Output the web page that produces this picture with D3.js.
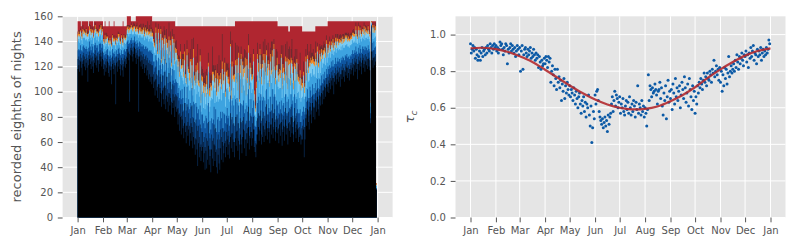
<!doctype html>
<html lang="en">
<head>
  <meta charset="utf-8">
  <title>eighths of nights</title>
  <script src="https://d3js.org/d3.v7.min.js"></script>
  <style>
    body { margin: 0; background: #fff; }
    text { font-family: "DejaVu Sans", sans-serif; }
  </style>
</head>
<body>
<svg id="fig" width="800" height="250"></svg>
<script>
// month ticks, day of year (leap year, 366 days)
var monthStarts = [0,31,60,91,121,152,182,213,244,274,305,335,366];
var monthNames = ["Jan","Feb","Mar","Apr","May","Jun","Jul","Aug","Sep","Oct","Nov","Dec","Jan"];

// left panel: recorded eighths per day, one list per class (bottom to top)
var black = [
  118,121,116,124,119,113,122,125,120,117,123,119,108,121,126,122,118,124,120,115,123,127,121,119,125,116,122,128,124,120,126,
  118,113,121,116,119,124,115,112,120,117,106,122,118,114,121,90,123,116,120,125,118,113,121,117,112,120,124,119,122,
  127,131,125,92,129,133,128,124,130,135,127,122,129,126,84,128,124,120,125,118,122,115,119,121,113,117,110,114,108,112,106,
  112,103,108,97,110,101,95,106,92,103,99,88,101,94,90,105,86,97,92,84,99,89,95,82,91,87,93,80,88,84,
  86,74,82,69,80,66,78,71,63,75,68,59,73,65,70,57,67,61,72,55,64,58,50,62,54,41,59,48,56,45,53,
  56,44,51,38,53,39,46,57,42,49,36,54,47,41,58,45,52,40,35,50,43,38,55,46,60,44,51,59,48,56,
  62,50,58,47,64,55,67,52,60,48,63,57,69,53,61,46,66,58,51,64,70,55,62,49,67,59,72,54,63,68,57,
  63,70,56,52,48,58,66,72,61,69,75,58,64,73,60,70,65,77,62,71,68,59,74,66,79,63,70,76,61,72,67,
  70,59,74,65,76,57,68,73,61,78,66,71,58,75,69,64,80,67,72,60,77,68,63,74,70,60,64,66,58,62,
  62,70,48,62,79,73,86,76,70,88,82,75,91,80,87,78,93,84,96,86,81,97,89,99,90,101,94,104,96,106,100,
  104,99,107,102,109,105,111,98,108,113,106,110,115,108,112,104,114,110,117,112,108,116,113,119,111,115,109,118,114,117,
  119,113,121,116,123,118,110,122,117,124,120,114,125,119,122,116,124,121,118,126,120,117,75,132,125,119,127,121,124,22,0
];
var navy = [
  8,7,9,6,8,11,7,6,8,9,7,8,17,8,6,7,9,7,8,10,7,6,8,9,6,9,8,5,7,8,6,
  7,9,6,8,7,5,8,9,6,7,14,6,7,9,6,30,5,8,7,5,7,9,6,8,10,7,5,7,6,
  7,5,7,38,6,5,7,8,6,4,7,9,6,7,44,6,8,9,7,10,8,11,9,8,12,10,13,11,14,12,15,
  9,11,8,12,10,13,9,11,14,9,15,10,12,9,14,11,8,15,10,12,16,9,13,10,15,11,12,16,10,13,
  10,13,11,14,10,15,12,13,10,16,12,14,17,11,13,16,12,14,17,13,15,18,13,16,19,28,14,16,18,13,15,
  12,16,13,18,14,24,15,19,12,14,18,12,14,22,16,12,19,14,27,16,12,24,15,18,11,13,17,10,13,12,
  12,15,11,13,19,11,13,10,15,12,17,11,13,10,14,12,13,18,11,13,10,14,12,13,10,12,16,11,9,13,11,
  12,10,14,9,11,8,13,11,9,12,10,8,15,11,8,11,10,13,9,11,8,12,10,8,11,9,13,10,7,9,11,
  9,12,8,10,7,13,10,8,11,9,7,10,13,9,7,10,8,12,9,6,10,11,8,9,6,11,8,10,7,9,
  11,8,24,10,8,9,7,9,11,7,9,10,6,8,7,10,6,8,6,8,9,5,7,6,8,5,7,5,7,5,6,
  8,10,7,9,7,8,6,13,7,6,8,7,5,8,7,10,6,7,5,7,9,6,7,5,8,6,9,5,7,6,
  7,9,6,8,6,8,12,6,8,6,7,9,5,8,7,9,6,7,8,5,7,8,4,20,7,8,6,7,6,1,0
];
var blue = [
  7,6,8,7,6,8,7,6,7,8,6,7,7,6,8,7,6,7,8,6,7,6,8,7,6,7,8,6,7,7,6,
  6,7,5,6,7,5,6,7,6,5,7,6,6,7,5,8,5,6,7,5,6,7,6,5,8,6,5,6,6,
  6,5,6,9,6,5,6,7,5,5,6,7,6,6,8,6,7,7,6,8,7,8,8,7,9,8,9,8,10,9,10,
  9,10,8,10,9,11,9,10,11,9,11,10,9,10,12,10,9,11,10,11,12,10,11,10,12,11,12,11,12,11,
  11,12,10,12,11,13,12,11,12,13,11,12,14,12,11,13,12,13,14,12,13,14,12,13,15,14,13,14,15,13,14,
  14,15,13,15,14,16,14,15,13,14,16,13,14,15,14,13,15,14,16,14,13,15,14,15,13,14,15,13,14,13,
  13,14,12,13,14,12,13,12,14,13,14,12,13,12,14,13,12,14,13,12,13,14,12,13,12,13,14,12,11,13,12,
  12,13,11,12,13,11,12,13,11,12,13,11,14,12,11,12,13,12,11,12,11,13,12,11,12,11,13,12,10,12,11,
  11,12,10,11,10,12,11,10,12,11,10,11,12,10,11,12,10,11,12,10,11,12,10,11,10,12,11,10,11,10,
  11,10,12,10,9,10,9,10,11,9,10,11,9,10,9,10,8,9,8,9,10,8,9,8,9,8,9,7,8,7,8,
  8,9,7,8,8,7,8,9,7,8,8,7,7,8,7,9,7,8,6,8,8,7,8,6,8,7,8,6,7,7,
  7,8,6,7,7,6,8,7,6,7,7,8,6,7,7,8,6,7,7,6,7,7,4,1,7,6,7,7,6,0,0
];
var sky = [
  7,8,6,7,8,6,7,6,8,7,6,7,8,7,6,7,8,6,7,7,6,8,7,6,7,8,6,7,7,6,7,
  6,5,7,6,5,6,7,5,6,7,6,5,6,7,5,6,6,7,5,6,6,5,7,6,5,6,5,6,5,
  6,5,6,7,5,6,5,6,5,4,6,7,5,6,7,5,6,7,6,7,8,7,8,7,8,9,8,9,8,10,9,
  9,12,7,10,14,8,11,15,9,12,16,10,13,8,17,11,14,10,18,12,9,15,13,11,19,12,16,10,14,17,
  13,8,17,10,15,19,9,14,21,12,16,10,18,23,11,15,20,13,9,17,24,12,16,19,10,22,14,18,25,13,16,
  18,12,22,15,9,20,14,25,17,11,23,16,19,27,13,21,15,24,18,12,26,17,20,14,22,28,16,19,13,21,
  16,22,13,19,25,11,17,21,14,24,18,12,20,16,26,13,19,23,15,21,12,18,24,16,20,14,16,17,25,13,19,
  15,20,11,9,8,16,22,13,18,24,14,19,12,21,16,23,13,18,25,15,20,12,17,22,14,19,24,13,18,16,21,
  14,19,11,17,22,13,16,20,12,18,15,21,13,17,23,12,16,19,14,20,11,18,15,22,13,17,12,19,16,14,
  12,16,10,14,18,11,15,13,17,10,14,16,12,15,11,14,13,10,15,12,11,14,10,13,12,9,12,11,10,13,9,
  10,9,10,8,9,10,8,9,10,8,9,10,8,9,8,10,9,8,9,8,10,8,9,8,9,8,9,8,9,8,
  8,9,7,8,9,7,8,9,8,7,8,9,7,8,9,8,7,8,9,7,8,8,5,1,8,9,7,8,8,2,0
];
var pale = [
  4,3,5,4,3,4,5,3,4,4,5,3,4,4,3,5,4,3,4,5,4,3,4,5,3,4,4,3,5,4,3,
  3,4,3,3,4,3,3,4,3,2,3,4,3,3,4,3,2,3,4,3,3,4,3,3,2,4,3,3,4,
  3,4,3,3,4,2,3,3,4,3,2,3,4,3,3,4,3,3,4,3,4,3,4,4,3,4,5,4,4,5,4,
  5,4,5,6,4,5,6,5,4,6,5,5,6,4,5,6,5,6,5,6,5,6,5,7,5,6,6,5,7,6,
  6,9,4,7,10,5,8,12,6,9,4,11,7,5,10,8,13,6,9,5,11,7,14,6,9,12,5,8,10,7,11,
  8,12,5,10,14,7,9,4,13,8,11,6,15,9,7,12,10,5,14,8,11,13,6,9,12,7,10,15,8,11,
  9,6,12,8,14,5,10,13,7,11,9,15,6,10,12,8,5,13,9,11,7,14,10,6,12,9,13,8,11,7,10,
  8,11,6,5,4,10,13,7,9,12,6,10,14,8,11,7,12,9,6,13,10,8,11,7,12,9,14,6,10,8,11,
  9,6,11,8,12,7,10,5,13,8,9,11,6,10,12,7,9,13,8,6,11,9,12,7,10,8,11,6,9,10,
  7,9,5,8,10,6,9,7,11,6,8,10,5,9,7,8,6,10,7,5,8,6,9,5,7,6,8,5,6,7,5,
  5,4,6,5,4,5,6,4,5,5,4,6,5,4,5,6,4,5,5,4,5,6,4,5,4,5,5,4,5,4,
  4,5,4,5,4,5,4,5,4,5,4,4,5,4,5,4,5,4,4,5,4,4,3,1,4,5,4,4,5,1,0
];
var orange = [
  2,3,2,1,3,2,2,3,1,2,3,2,2,1,3,2,2,3,2,1,2,3,2,2,1,3,2,2,3,2,2,
  2,1,3,2,2,1,2,3,2,2,1,2,3,2,2,1,2,2,3,2,1,2,2,3,2,2,1,2,2,
  2,2,3,2,1,2,2,3,2,1,2,3,2,2,1,2,3,2,2,3,2,2,3,2,3,2,3,2,3,2,3,
  3,2,3,2,4,3,2,3,3,2,4,3,2,3,4,2,3,3,4,2,3,3,4,3,2,4,3,3,4,3,
  3,5,2,4,6,3,2,5,4,7,3,2,5,4,3,6,2,4,5,3,7,4,2,5,3,6,4,3,5,2,4,
  4,6,3,5,2,7,4,3,6,5,3,4,7,2,5,4,6,3,5,4,8,3,5,4,6,3,5,7,4,3,
  5,3,6,4,2,7,4,5,3,6,4,3,5,7,4,2,6,4,5,3,6,4,7,3,5,4,6,3,4,5,3,
  4,6,3,2,2,5,4,7,3,5,4,6,3,5,4,7,3,4,6,3,5,4,6,3,5,7,4,3,5,4,6,
  3,5,4,6,3,4,7,3,5,4,6,3,4,5,3,6,4,3,5,7,3,4,6,3,5,4,3,6,4,5,
  4,3,5,3,4,6,3,4,5,3,4,3,5,4,3,4,5,3,4,3,4,3,4,3,3,4,3,3,4,3,3,
  3,2,3,2,3,2,3,2,2,3,2,3,2,2,3,2,3,2,2,3,2,2,3,2,2,3,2,2,3,2,
  2,3,2,2,3,2,2,3,2,2,3,2,2,3,2,2,3,2,2,3,2,2,2,1,2,3,2,2,3,1,0
];
var maroon = [
  2,1,3,2,1,2,3,1,2,2,1,3,2,1,2,3,1,2,2,1,3,2,1,2,2,1,3,2,1,2,2,
  1,2,2,1,3,1,2,2,1,2,3,1,2,1,2,2,1,3,2,1,2,2,1,2,3,1,2,2,1,
  2,1,3,2,1,2,2,1,3,2,1,2,3,2,1,2,3,2,4,2,3,5,2,4,3,6,2,5,3,7,4,
  3,6,2,8,4,5,3,4,4,6,2,7,5,3,10,4,6,8,3,5,11,4,7,3,6,9,4,12,5,7,
  4,8,3,12,6,5,9,4,14,6,3,10,7,5,13,4,8,6,16,5,9,3,11,7,4,15,6,8,5,18,7,
  6,10,4,15,7,5,12,8,3,14,6,9,20,5,8,11,4,13,7,6,16,5,10,8,22,6,9,4,12,7,
  5,13,7,4,10,8,17,5,9,6,14,4,11,7,5,19,8,6,12,4,9,15,6,10,5,8,9,7,4,11,6,
  7,4,11,6,16,5,9,7,13,4,8,18,6,10,5,12,7,4,9,14,6,8,5,23,7,10,4,9,6,13,5,
  6,9,4,12,7,5,15,8,4,10,6,13,5,8,11,4,7,17,6,9,5,12,4,8,6,10,5,14,7,4,
  5,8,4,10,6,3,9,5,7,4,11,6,3,8,5,4,9,6,3,7,4,5,8,3,6,4,7,3,5,4,3,
  3,2,4,3,2,5,3,2,4,3,2,3,4,2,3,5,2,3,2,4,3,2,3,2,4,3,2,3,2,3,
  2,3,2,2,3,1,2,3,2,2,3,2,1,2,3,2,2,3,2,1,2,2,0,0,2,3,2,2,3,0,0
];
// height of each day's bar; the red class fills what is left
var totals = [
  156,156,156,156,152,156,156,156,156,156,156,156,156,152,156,156,156,156,156,152,156,156,156,156,156,156,156,156,156,156,156,
  152,152,156,152,152,152,152,156,152,152,152,152,152,156,152,152,152,152,152,152,152,152,152,152,156,152,152,152,152,
  160,160,160,160,160,156,156,156,156,156,156,160,160,160,160,160,160,160,160,160,160,160,160,160,160,160,160,160,160,160,160,
  156,156,156,156,156,156,156,156,156,156,156,156,156,156,156,156,156,156,156,156,156,156,156,156,156,156,156,156,152,152,
  152,152,152,152,152,152,152,152,152,152,152,152,152,152,152,152,152,152,152,152,152,152,152,152,152,152,152,152,152,152,152,
  152,152,152,152,152,152,152,152,152,152,152,152,152,152,152,152,152,152,152,152,152,152,152,152,152,152,152,152,152,152,
  152,152,152,152,152,152,152,152,152,152,156,156,156,156,156,156,156,156,156,156,156,156,156,156,156,156,156,156,156,156,156,
  156,156,156,156,156,156,156,156,156,156,156,156,156,156,156,156,156,156,156,156,156,156,156,156,156,156,156,156,156,156,156,
  152,152,152,152,152,152,152,152,152,152,152,152,152,148,148,152,152,152,152,152,152,152,152,152,152,152,152,152,152,152,
  148,148,148,148,148,148,148,148,148,148,148,148,148,148,148,148,152,152,152,152,152,152,152,152,152,152,152,152,152,152,152,
  156,156,156,156,156,156,156,156,156,156,156,156,156,156,156,156,156,156,156,156,156,156,156,156,156,156,156,156,156,156,
  156,156,156,156,156,156,156,156,156,156,156,156,156,156,156,156,156,156,156,156,156,156,93,156,156,156,156,156,156,27,0
];

// right panel: tau_c per day and the smooth fit
var tau = [
  0.95,0.90,0.92,0.94,0.91,0.93,0.87,0.92,0.89,0.86,0.88,0.91,0.86,0.90,0.93,0.88,0.91,0.92,0.89,0.93,0.90,0.94,0.92,0.91,0.95,0.93,0.90,0.94,0.92,0.95,0.93,
  0.94,0.91,0.93,0.90,0.92,0.96,0.94,0.95,0.92,0.89,0.93,0.91,0.95,0.94,0.84,0.92,0.90,0.93,0.95,0.91,0.94,0.92,0.90,0.93,0.88,0.91,0.94,0.92,0.89,
  0.93,0.80,0.91,0.94,0.81,0.89,0.92,0.93,0.90,0.88,0.92,0.89,0.91,0.93,0.87,0.90,0.88,0.92,0.89,0.86,0.90,0.87,0.89,0.82,0.88,0.85,0.81,0.86,0.83,0.84,0.87,
  0.84,0.88,0.86,0.82,0.88,0.85,0.87,0.74,0.80,0.83,0.78,0.72,0.81,0.76,0.70,0.81,0.74,0.77,0.71,0.75,0.64,0.73,0.69,0.76,0.65,0.72,0.68,0.74,0.70,0.67,
  0.72,0.66,0.70,0.68,0.64,0.71,0.67,0.62,0.69,0.65,0.60,0.66,0.68,0.62,0.57,0.64,0.61,0.66,0.58,0.63,0.55,0.62,0.60,0.67,0.56,0.50,0.61,0.41,0.49,0.58,0.54,
  0.67,0.62,0.69,0.70,0.64,0.58,0.55,0.53,0.51,0.54,0.49,0.52,0.55,0.50,0.53,0.47,0.56,0.51,0.55,0.57,0.62,0.66,0.58,0.64,0.69,0.61,0.67,0.65,0.60,0.63,
  0.66,0.57,0.62,0.60,0.65,0.58,0.56,0.61,0.64,0.59,0.63,0.57,0.66,0.60,0.56,0.62,0.58,0.64,0.61,0.55,0.63,0.59,0.72,0.57,0.62,0.60,0.56,0.64,0.58,0.61,0.55,
  0.60,0.57,0.50,0.59,0.78,0.64,0.72,0.70,0.66,0.71,0.68,0.69,0.73,0.70,0.67,0.62,0.69,0.70,0.74,0.65,0.71,0.61,0.56,0.68,0.64,0.72,0.54,0.66,0.75,0.63,0.69,
  0.65,0.70,0.59,0.73,0.68,0.62,0.76,0.66,0.71,0.64,0.69,0.72,0.60,0.67,0.74,0.70,0.65,0.77,0.71,0.63,0.68,0.73,0.61,0.76,0.70,0.66,0.59,0.72,0.64,0.69,
  0.57,0.66,0.62,0.72,0.68,0.74,0.71,0.76,0.73,0.70,0.75,0.79,0.74,0.77,0.72,0.79,0.76,0.75,0.80,0.78,0.74,0.81,0.79,0.86,0.77,0.80,0.83,0.78,0.81,0.75,0.82,
  0.74,0.80,0.69,0.78,0.72,0.82,0.76,0.81,0.73,0.79,0.88,0.77,0.80,0.83,0.79,0.81,0.84,0.80,0.86,0.82,0.89,0.85,0.81,0.88,0.84,0.87,0.90,0.86,0.83,0.89,
  0.88,0.91,0.85,0.89,0.82,0.90,0.87,0.93,0.88,0.91,0.94,0.86,0.90,0.89,0.84,0.92,0.88,0.91,0.89,0.93,0.86,0.90,0.92,0.88,0.91,0.89,0.93,0.90,0.92,0.97,0.95
];
var fitDays = [0,15,31,46,60,75,91,106,121,136,152,167,182,197,213,228,244,259,274,289,305,320,335,350,366];
var fitTau = [0.925,0.928,0.921,0.905,0.882,0.852,0.808,0.765,0.722,0.682,0.645,0.618,0.600,0.591,0.594,0.607,0.636,0.670,0.712,0.762,0.810,0.850,0.885,0.910,0.925];

var keys = ["black","navy","blue","sky","pale","orange","maroon","red"];
var colors = {
  black: "#000000", navy: "#08284f", blue: "#0e55a0", sky: "#3da3e0",
  pale: "#7ccbf1", orange: "#f28a24", maroon: "#6e2a30", red: "#b02630"
};
var tickGrey = "#555555";

var svg = d3.select("#fig");

// same vertical extent for both panels
var yTop = 16.3, yBottom = 217.5;
var xLeft = d3.scaleLinear().domain([0, 366]).range([77.6, 377.6]);
var yLeft = d3.scaleLinear().domain([0, 160]).range([yBottom, yTop]);
var xRight = d3.scaleLinear().domain([0, 366]).range([470.5, 770.5]);
var yRight = d3.scaleLinear().domain([0, 1.1]).range([yBottom, yTop]);

function drawPanel(x, y, yTicks) {
  var pad = 366 * 0.05;
  var p = { g: svg.append("g"), x0: x(-pad), x1: x(366 + pad) };
  p.g.append("rect")
    .attr("x", p.x0).attr("y", yTop)
    .attr("width", p.x1 - p.x0).attr("height", yBottom - yTop)
    .attr("fill", "#e5e5e5");
  p.g.selectAll(null).data(monthStarts).enter().append("line")
    .attr("x1", function(d) { return x(d); }).attr("x2", function(d) { return x(d); })
    .attr("y1", yTop).attr("y2", yBottom)
    .attr("stroke", "#fff").attr("stroke-width", 1);
  p.g.selectAll(null).data(yTicks).enter().append("line")
    .attr("x1", p.x0).attr("x2", p.x1)
    .attr("y1", function(d) { return y(d); }).attr("y2", function(d) { return y(d); })
    .attr("stroke", "#fff").attr("stroke-width", 1);
  p.marks = p.g.append("g");
  return p;
}

function drawAxes(p, x, y, yTicks, yFmt) {
  var bx = p.g.append("g")
    .attr("transform", "translate(0," + yBottom + ")")
    .call(d3.axisBottom(x).tickValues(monthStarts)
      .tickFormat(function(d, i) { return monthNames[i]; })
      .tickSize(4.8).tickPadding(4.8));
  var by = p.g.append("g")
    .attr("transform", "translate(" + p.x0 + ",0)")
    .call(d3.axisLeft(y).tickValues(yTicks).tickFormat(yFmt)
      .tickSize(4.8).tickPadding(4.8));
  [bx, by].forEach(function(a) {
    a.select(".domain").remove();
    a.attr("font-family", "DejaVu Sans").attr("font-size", 10);
    a.selectAll("line").attr("stroke", tickGrey);
    a.selectAll("text").attr("fill", tickGrey);
  });
}

// ---- left: stacked bars per day
var left = drawPanel(xLeft, yLeft, [0,20,40,60,80,100,120,140,160]);
var rows = black.map(function(b, i) {
  var used = b + navy[i] + blue[i] + sky[i] + pale[i] + orange[i] + maroon[i];
  return { day: i, black: b, navy: navy[i], blue: blue[i], sky: sky[i], pale: pale[i],
           orange: orange[i], maroon: maroon[i], red: Math.max(0, totals[i] - used) };
});
var stacked = d3.stack().keys(keys)(rows);
// one stepped shape per class, day-wide steps; drawn top class first,
// each from the baseline, so neighbouring days leave no seams
var barArea = d3.area()
  .x(function(d, i) { return xLeft(i); })
  .y0(yLeft(0))
  .y1(function(d) { return yLeft(d[1]); })
  .curve(d3.curveStepAfter);
stacked.slice().reverse().forEach(function(s) {
  var pts = s.concat([s[s.length - 1]]);
  left.marks.append("path")
    .attr("d", barArea(pts))
    .attr("fill", colors[s.key]);
});
drawAxes(left, xLeft, yLeft, [0,20,40,60,80,100,120,140,160], d3.format("d"));
svg.append("text")
  .attr("transform", "translate(21," + ((yTop + yBottom) / 2) + ") rotate(-90)")
  .attr("text-anchor", "middle")
  .attr("font-size", 13).attr("fill", tickGrey)
  .text("recorded eighths of nights");

// ---- right: tau_c scatter with fitted curve
var right = drawPanel(xRight, yRight, [0,0.2,0.4,0.6,0.8,1.0]);
right.marks.selectAll("circle").data(tau).enter().append("circle")
  .attr("cx", function(d, i) { return xRight(i); })
  .attr("cy", function(d) { return yRight(d); })
  .attr("r", 1.5)
  .attr("fill", "#0c5aa6");
var fitLine = d3.line()
  .x(function(d, i) { return xRight(fitDays[i]); })
  .y(function(d) { return yRight(d); })
  .curve(d3.curveCatmullRom);
right.marks.append("path")
  .attr("d", fitLine(fitTau))
  .attr("fill", "none")
  .attr("stroke", "#b22a2f").attr("stroke-width", 2.2)
  .attr("stroke-opacity", 0.9);
drawAxes(right, xRight, yRight, [0,0.2,0.4,0.6,0.8,1.0], d3.format(".1f"));
var tl = svg.append("text")
  .attr("transform", "translate(414," + ((yTop + yBottom) / 2) + ") rotate(-90)")
  .attr("text-anchor", "middle")
  .attr("font-size", 13).attr("fill", tickGrey);
tl.append("tspan").attr("font-style", "italic").text("τ");
tl.append("tspan").attr("font-style", "italic").attr("font-size", 9).attr("dy", 3).text("c");
</script>
</body>
</html>
